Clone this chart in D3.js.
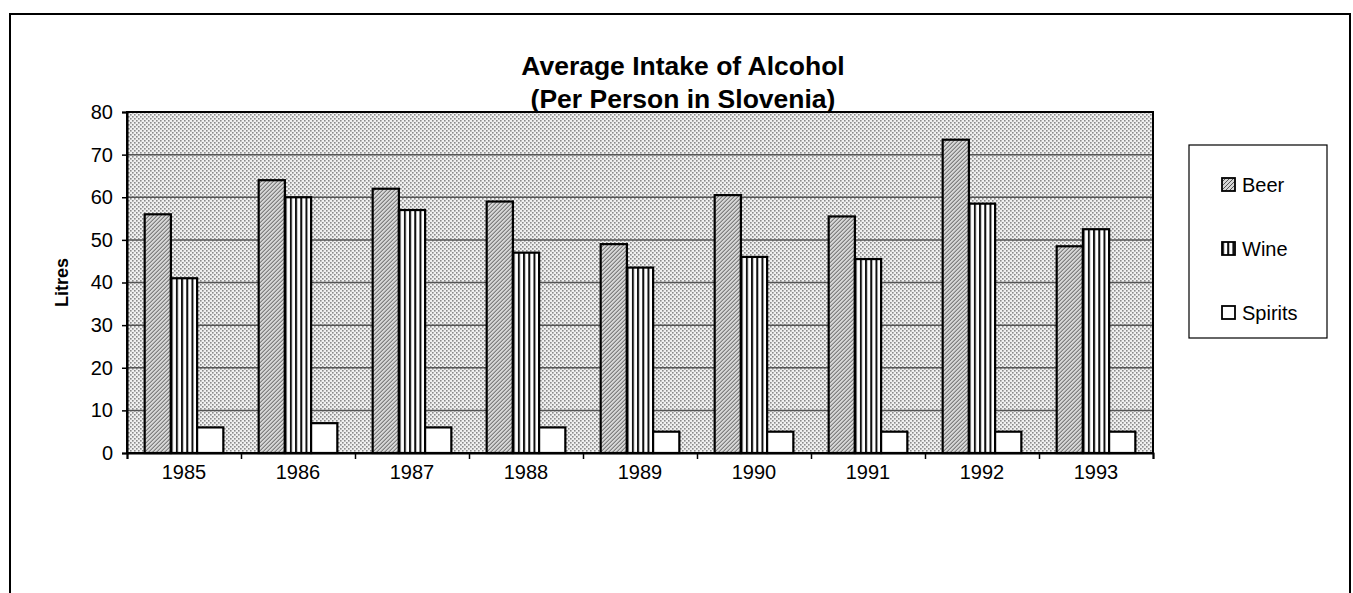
<!DOCTYPE html>
<html>
<head>
<meta charset="utf-8">
<script src="https://cdn.jsdelivr.net/npm/d3@7"></script>
<style>
  body { margin: 0; background: #fff; }
  svg text { font-family: "Liberation Sans", Arial, sans-serif; fill: #000; }
</style>
</head>
<body>
<div id="chart"></div>
<script>
"use strict";

// values (litres per person)
var years = ["1985", "1986", "1987", "1988", "1989", "1990", "1991", "1992", "1993"];
var beer = [56, 64, 62, 59, 49, 60.5, 55.5, 73.5, 48.5];
var wine = [41, 60, 57, 47, 43.5, 46, 45.5, 58.5, 52.5];
var spirits = [6, 7, 6, 6, 5, 5, 5, 5, 5];
var seriesNames = ["Beer", "Wine", "Spirits"];
var yTicks = [0, 10, 20, 30, 40, 50, 60, 70, 80];

var width = 1353, height = 593;
var margin = {top: 112, right: 200, bottom: 140, left: 127};

var svg = d3.select("#chart").append("svg")
  .attr("width", width)
  .attr("height", height);

var defs = svg.append("defs");

// halftone dots for the plot area
var bgPat = defs.append("pattern")
  .attr("id", "bgDots")
  .attr("width", 4).attr("height", 4)
  .attr("patternUnits", "userSpaceOnUse");
bgPat.append("rect").attr("width", 4).attr("height", 4).attr("fill", "#f0f0f0");
bgPat.append("rect").attr("x", 0).attr("y", 0).attr("width", 1.6).attr("height", 1.6).attr("fill", "#8a8a8a");
bgPat.append("rect").attr("x", 2).attr("y", 2).attr("width", 1.6).attr("height", 1.6).attr("fill", "#8a8a8a");

// beer: dense diagonal dither
var beerPat = defs.append("pattern")
  .attr("id", "beerFill")
  .attr("width", 4).attr("height", 4)
  .attr("patternUnits", "userSpaceOnUse");
beerPat.append("rect").attr("width", 4).attr("height", 4).attr("fill", "#d6d6d6");
beerPat.append("path").attr("d", "M-1,1 L1,-1 M0,4 L4,0 M3,5 L5,3")
  .attr("stroke", "#555").attr("stroke-width", 1);

// wine: vertical stripes
var winePat = defs.append("pattern")
  .attr("id", "wineFill")
  .attr("width", 5.2).attr("height", 4)
  .attr("patternUnits", "userSpaceOnUse");
winePat.append("rect").attr("width", 5.2).attr("height", 4).attr("fill", "#fff");
winePat.append("rect").attr("x", 0).attr("width", 2).attr("height", 4).attr("fill", "#111");

var fills = {Beer: "url(#beerFill)", Wine: "url(#wineFill)", Spirits: "#fff"};

// outer frame
svg.append("rect")
  .attr("x", 10).attr("y", 14)
  .attr("width", 1340).attr("height", 600)
  .attr("fill", "none")
  .attr("stroke", "#000")
  .attr("stroke-width", 2);

var x = d3.scaleBand()
  .domain(years)
  .range([margin.left, width - margin.right])
  .paddingInner(0.31)
  .paddingOuter(0.155);

var xs = d3.scaleBand()
  .domain(seriesNames)
  .range([0, x.bandwidth()]);

var y = d3.scaleLinear()
  .domain([0, 80])
  .range([height - margin.bottom, margin.top]);

var plotW = width - margin.right - margin.left;

svg.append("rect")
  .attr("x", margin.left).attr("y", margin.top)
  .attr("width", plotW)
  .attr("height", y(0) - y(80))
  .attr("fill", "url(#bgDots)");

svg.append("g")
  .selectAll("line")
  .data(yTicks.filter(function(d) { return d > 0 && d < 80; }))
  .enter().append("line")
  .attr("x1", margin.left).attr("x2", margin.left + plotW)
  .attr("y1", function(d) { return y(d); })
  .attr("y2", function(d) { return y(d); })
  .attr("stroke", "#555")
  .attr("stroke-width", 1.5);

var rows = years.map(function(yr, i) {
  return {year: yr, values: [
    {name: "Beer", value: beer[i]},
    {name: "Wine", value: wine[i]},
    {name: "Spirits", value: spirits[i]}
  ]};
});

svg.append("g")
  .selectAll("g")
  .data(rows)
  .enter().append("g")
  .attr("transform", function(d) { return "translate(" + x(d.year) + ",0)"; })
  .selectAll("rect")
  .data(function(d) { return d.values; })
  .enter().append("rect")
  .attr("x", function(d) { return xs(d.name); })
  .attr("y", function(d) { return y(d.value); })
  .attr("width", xs.bandwidth())
  .attr("height", function(d) { return y(0) - y(d.value); })
  .attr("fill", function(d) { return fills[d.name]; })
  .attr("stroke", "#000")
  .attr("stroke-width", 2.2);

// plot border
svg.append("rect")
  .attr("x", margin.left).attr("y", margin.top)
  .attr("width", plotW)
  .attr("height", y(0) - y(80))
  .attr("fill", "none")
  .attr("stroke", "#000")
  .attr("stroke-width", 2);

// y axis
var yAxis = svg.append("g")
  .attr("transform", "translate(" + margin.left + ",0)")
  .call(d3.axisLeft(y).tickValues(yTicks).tickSize(5).tickPadding(9));
yAxis.select(".domain").attr("stroke", "#000").attr("stroke-width", 2);
yAxis.selectAll(".tick line").attr("stroke", "#000").attr("stroke-width", 1.5);
yAxis.selectAll("text").style("font-size", "20px");

// x axis: ticks sit between categories, labels centred under groups
var xb = d3.scaleLinear().domain([0, years.length]).range([margin.left, width - margin.right]);
var xTicks = svg.append("g")
  .attr("transform", "translate(0," + y(0) + ")")
  .call(d3.axisBottom(xb).tickValues(d3.range(years.length + 1)).tickSize(6).tickFormat(""));
xTicks.select(".domain").attr("stroke", "#000").attr("stroke-width", 2);
xTicks.selectAll(".tick line").attr("stroke", "#000").attr("stroke-width", 1.5);

var xLabels = svg.append("g")
  .attr("transform", "translate(0," + y(0) + ")")
  .call(d3.axisBottom(x).tickSize(0).tickPadding(12));
xLabels.select(".domain").remove();
xLabels.selectAll("text").style("font-size", "20px");

svg.append("text")
  .attr("transform", "translate(68," + (margin.top + (y(0) - y(80)) / 2) + ") rotate(-90)")
  .attr("text-anchor", "middle")
  .style("font-size", "18px")
  .style("font-weight", "bold")
  .text("Litres");

var title = svg.append("text")
  .attr("text-anchor", "middle")
  .style("font-size", "26.5px")
  .style("font-weight", "bold");
title.append("tspan").attr("x", 683).attr("y", 75).text("Average Intake of Alcohol");
title.append("tspan").attr("x", 683).attr("y", 108).text("(Per Person in Slovenia)");

// legend
var legend = svg.append("g").attr("transform", "translate(1189,145)");
legend.append("rect")
  .attr("width", 138).attr("height", 193)
  .attr("fill", "#fff")
  .attr("stroke", "#000")
  .attr("stroke-width", 1.2);

var item = legend.selectAll(".item")
  .data(seriesNames)
  .enter().append("g")
  .attr("class", "item")
  .attr("transform", function(d, i) { return "translate(33," + (33 + i * 64) + ")"; });
item.append("rect")
  .attr("width", 13).attr("height", 13)
  .attr("fill", function(d) { return fills[d]; })
  .attr("stroke", "#000")
  .attr("stroke-width", 1.8);
item.append("text")
  .attr("x", 20).attr("y", 7)
  .attr("dy", "0.35em")
  .style("font-size", "20px")
  .text(function(d) { return d; });
</script>
</body>
</html>
